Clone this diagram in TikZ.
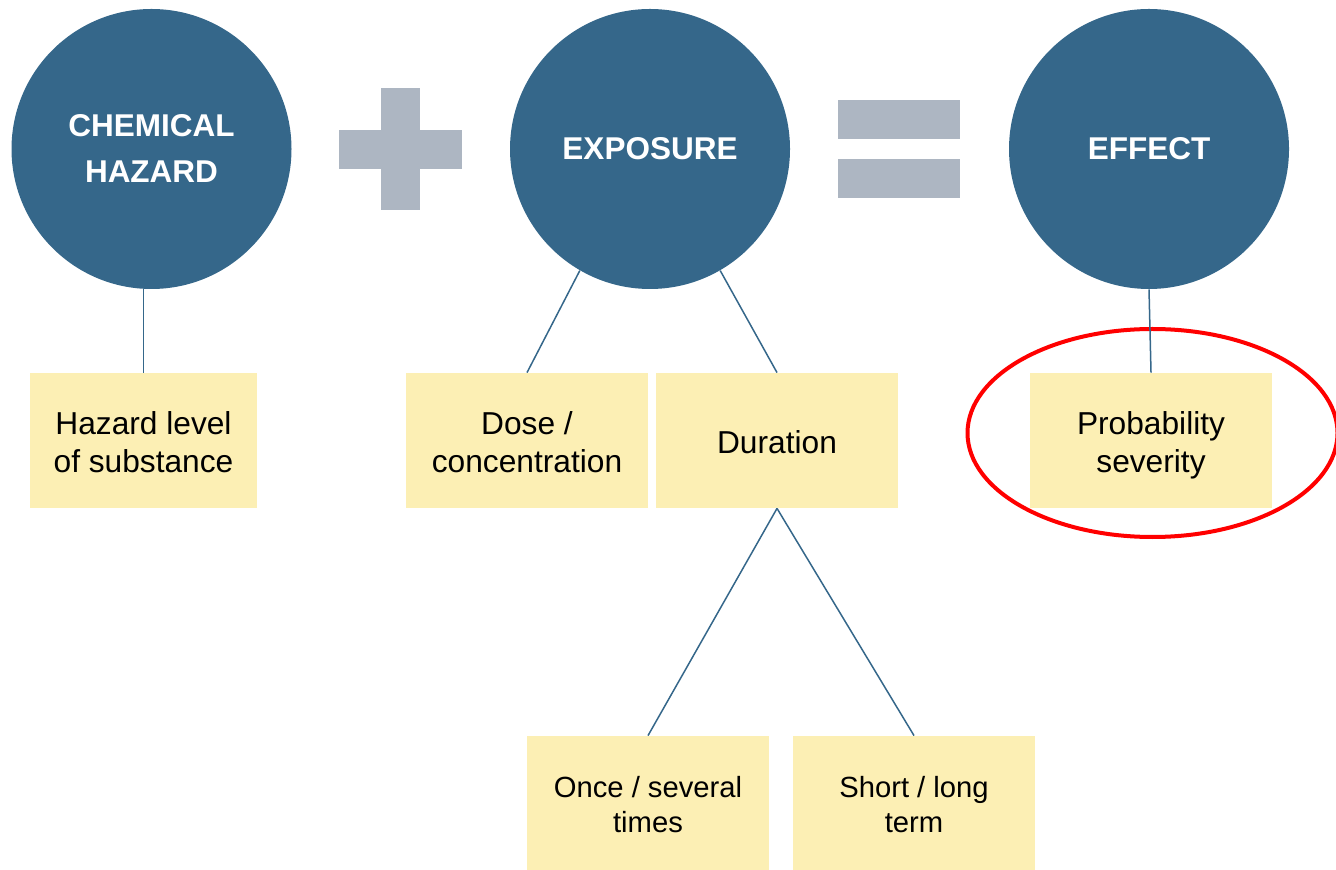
\documentclass[tikz,border=0pt]{standalone}
\usepackage{fontspec}
\setmainfont{Liberation Sans}
\usetikzlibrary{shapes.geometric}
\definecolor{circblue}{RGB}{53,103,138}
\definecolor{lineblue}{RGB}{53,103,138}
\definecolor{boxyellow}{RGB}{252,239,180}
\definecolor{signgrey}{RGB}{173,182,194}
\definecolor{hlred}{RGB}{255,0,0}
\newcommand\mytopstrut{\rule{0pt}{1.05em}}
\newcommand\mybotstrut{\rule[-0.21em]{0pt}{0.21em}}
\begin{document}
\begin{tikzpicture}[x=0.5pt,y=-0.5pt,
  bigcirc/.style={circle, fill=circblue, draw=none, minimum size=140pt, inner sep=0pt,
    text=white, align=center, font=\fontsize{15.75}{23}\selectfont\bfseries},
  box/.style={rectangle, fill=boxyellow, draw=none, minimum height=67.5pt, minimum width=121pt,
    inner sep=0pt, align=center, font=\fontsize{15.85}{19}\selectfont},
  sbox/.style={box, minimum height=67pt, font=\fontsize{14.6}{17.5}\selectfont},
  link/.style={draw=lineblue, line width=0.75pt},
  sign/.style={fill=signgrey, draw=none},
  highlight/.style={ellipse, draw=hlred, line width=2pt, fill=none, inner sep=0pt,
    minimum width=185pt, minimum height=104pt}]
\useasboundingbox (0,0) rectangle (1336,870);

% circles
\node[bigcirc] (c1) at (151.5,149) {CHEMICAL\\HAZARD};
\node[bigcirc] (c2) at (650,149) {EXPOSURE};
\node[bigcirc] (c3) at (1149,149) {EFFECT};

% plus sign
\fill[sign] (339,130) rectangle (462,169);
\fill[sign] (381,88) rectangle (420,210);
% equals sign
\fill[sign] (838,100) rectangle (960,139);
\fill[sign] (838,159) rectangle (960,198);

% boxes
\node[box, minimum width=113.5pt] (hz) at (143.5,440.5) {\mytopstrut Hazard level\\of substance\mybotstrut};
\node[box] (dose) at (527,440.5) {\mytopstrut Dose /\\concentration\mybotstrut};
\node[box] (dur) at (777,440.5) {\mytopstrut Duration\mybotstrut};
\node[box] (prob) at (1151,440.5) {\mytopstrut Probability\\severity\mybotstrut};
\node[sbox] (once) at (648,803) {\mytopstrut Once / several\\times\mybotstrut};
\node[sbox] (short) at (914,803) {\mytopstrut Short / long\\term\mybotstrut};

% highlight ellipse
\node[highlight] (hl) at (1152.5,433) {};

% connectors
\draw[link] (hz.north |- c1.south) -- (hz.north);
\draw[link] (c2.-120) -- (dose.north);
\draw[link] (c2.-60) -- (dur.north);
\draw[link] (c3.south) -- (prob.north);
\draw[link] (dur.south) -- (once.north);
\draw[link] (dur.south) -- (short.north);
\end{tikzpicture}
\end{document}
